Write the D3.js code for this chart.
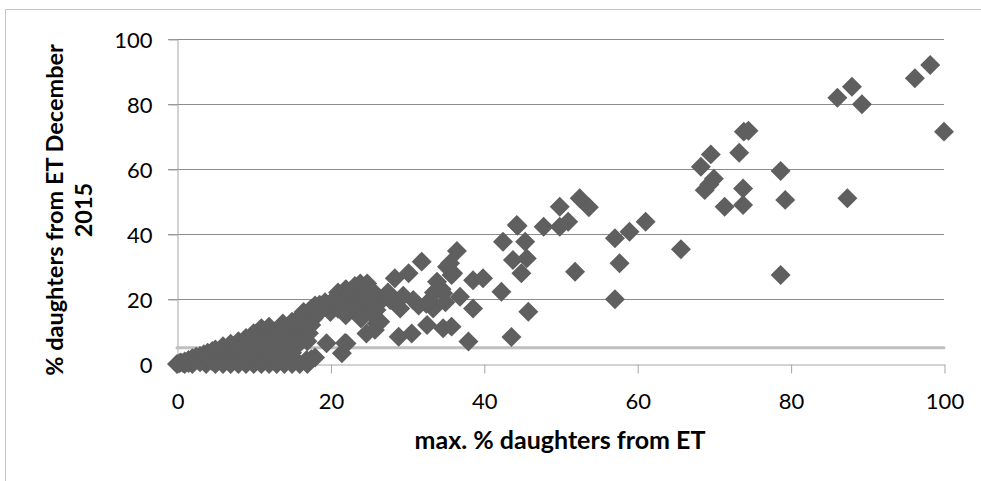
<!DOCTYPE html>
<html>
<head>
<meta charset="utf-8">
<script src="https://cdn.jsdelivr.net/npm/d3@7/dist/d3.min.js"></script>
<style>
  body { margin: 0; background: #fff; }
  svg { display: block; }
  text { font-family: Lato, "Open Sans", sans-serif; fill: #000; }
</style>
</head>
<body>
<div id="chart"></div>
<script>
// max. % daughters from ET (x) and % daughters from ET December 2015 (y), one entry per bull
var maxPctET = [
    0, 0.3, 0.5, 0.8, 1, 1, 1.5, 1.5, 2, 2, 2.3,
    2.5, 3, 3, 3.2, 3.5, 3.8, 4, 4, 4.5, 4.6, 5, 5, 5,
    5.5, 5.5, 6, 6, 6.2, 6.5, 6.8, 7, 7, 7.3, 7.5, 7.8, 8, 8, 8.2,
    8.5, 8.8, 9, 9, 9.2, 9.5, 9.8, 10, 10, 10.2, 10.5, 10.8, 11, 11, 11.3,
    11.5, 11.8, 12, 12, 12.5, 12.8, 13, 13.5, 13.5, 13.8, 14, 14, 14,
    14.5, 14.5, 15, 15, 15.3, 15.5, 16, 16, 16.3, 16.5, 16.8, 17, 17, 17.5, 16.9,
    17.5, 17.8, 17.2, 18, 18.3, 17.5, 19, 19.3, 19.5, 20, 20, 18,
    11, 12, 13.5, 14.5, 15, 16, 12.5, 10.5,
    20.5, 21, 21, 21.5, 21.5, 21.9, 22, 22, 22.5, 22.8, 23, 23.2, 23.5, 23.8, 24, 24,
    24.5, 24.8, 25, 25.2, 25.5, 26, 26, 24.7, 26, 22.1,
    25.8, 26.5, 26, 28.9, 30.6, 32.6, 34.7, 35.8, 33.4, 29.1, 27.8, 30.8, 28.4, 30.2,
    31.9, 33.9, 35.2, 35.8, 36.5, 35.6, 36, 38.6, 39.9, 34.7, 36.9, 38.6, 38, 23.9,
    22.1, 18.6, 21.7, 33.5, 33, 34.5, 35, 31.5, 32.5, 27.5, 29.5,
    42.5, 44.3, 45.4, 47.8, 49.9, 51, 49.9, 52.5, 53.7, 43.8, 45.6, 44.9, 42.3, 45.8,
    43.6, 51.9, 44.4,
    57.1, 59, 61.1, 57.7, 65.7, 78.7, 57.1,
    68.3, 69.6, 73.3, 73.9, 74.5, 70, 69.4, 68.8, 78.7, 73.8, 71.4, 73.8, 79.3, 87.4,
    86.1, 88, 89.3, 96.2, 98.2, 100
];
var pctETDec2015 = [
    0, 0.2, 0.5, 0.3, 0, 0.8, 1.2, 0.3, 0, 1.8, 1,
    2.2, 0.5, 2.5, 1.5, 3, 0, 2, 3.5, 1, 4, 0, 2.5, 4.5,
    1.5, 3.5, 0, 5.5, 2.8, 4.5, 1, 0, 6.2, 3.5, 5, 2, 0, 7, 4,
    6, 1.5, 0, 8, 3, 5, 7, 0, 9.5, 2, 4, 8.5, 0, 11, 10,
    2, 9, 0, 11.5, 1.5, 10, 0, 2, 9.5, 12.5, 0, 7.5, 11,
    2, 5.5, 0, 13, 9, 11.5, 0, 14.5, 10.5, 16, 12, 0, 7, 1.5, 1.2,
    17, 14, 9.5, 18, 16, 12, 17, 19, 6.4, 18.5, 16, 2,
    6, 4, 5, 7.5, 3.5, 6.5, 8, 6.5,
    20, 17, 22, 19, 3.3, 6.5, 15, 23, 18, 21, 16.5, 24, 19.5, 22, 17, 14,
    21, 24.8, 19.5, 16, 22.5, 18, 20.5, 9.4, 12.5, 6.3,
    10.5, 13, 16.6, 8.4, 9.4, 12, 11, 11.5, 17.1, 17.1, 19.7, 19.7, 26.4, 27.9,
    31.5, 25.3, 29.9, 27.4, 34.8, 31, 27.9, 25.8, 26.4, 21.8, 20.7, 17.1, 6.9, 24.8,
    22.8, 18.2, 16.6, 22, 19.5, 23, 19, 18, 18.5, 22, 21,
    37.6, 42.8, 37.6, 42.2, 48.4, 43.8, 42.2, 51, 48.2, 32, 32.5, 27.9, 22.2, 16.1,
    8.3, 28.4, 42.5,
    38.7, 40.7, 43.8, 31, 35.3, 27.4, 19.9,
    60.7, 64.5, 65, 71.5, 71.8, 57, 55.2, 53.5, 59.4, 54, 48.4, 48.9, 50.5, 51,
    81.9, 85.3, 79.9, 87.9, 92, 71.5
];
var xTicks = [0, 20, 40, 60, 80, 100];
var yTicks = [0, 20, 40, 60, 80, 100];
var refLevel = 5;
var xTitle = "max. % daughters from ET";
var yTitleLines = ["% daughters from ET December", "2015"];

(function () {
    var width = 981, height = 481;
    var left = 177, right = 944, top = 39, bottom = 364;

    var svg = d3.select("#chart").append("svg")
        .attr("width", width)
        .attr("height", height);

    // outer chart border (runs off the right and bottom of the picture)
    svg.append("rect")
        .attr("x", 5.5).attr("y", 9.5)
        .attr("width", 1000).attr("height", 500)
        .attr("fill", "none")
        .attr("stroke", "#c6c6c6");

    var x = d3.scaleLinear().domain([0, 100]).range([left, right]);
    var y = d3.scaleLinear().domain([0, 100]).range([bottom, top]);

    // horizontal gridlines
    svg.append("g")
        .selectAll("line")
        .data(yTicks.filter(function (d) { return d > 0; }))
        .enter().append("line")
        .attr("x1", left - 9).attr("x2", right)
        .attr("y1", function (d) { return Math.round(y(d)) + 0.5; })
        .attr("y2", function (d) { return Math.round(y(d)) + 0.5; })
        .attr("stroke", "#8c8c8c");

    // y axis
    var gy = svg.append("g")
        .attr("transform", "translate(" + (left + 0.5) + ",0.5)")
        .call(d3.axisLeft(y).tickValues(yTicks).tickSize(9).tickSizeOuter(0).tickPadding(16));
    gy.select(".domain").attr("stroke", "#a6a6a6");
    gy.selectAll(".tick line").attr("stroke", "#a6a6a6");
    gy.selectAll(".tick text")
        .attr("font-size", 22)
        .attr("font-family", "Lato, sans-serif")
        .attr("dy", "0.36em")
        .attr("fill", "#000");

    // x axis
    var gx = svg.append("g")
        .attr("transform", "translate(0.5," + (bottom + 0.5) + ")")
        .call(d3.axisBottom(x).tickValues(xTicks).tickSize(9).tickSizeOuter(0).tickPadding(20));
    gx.select(".domain").attr("stroke", "#a6a6a6");
    gx.selectAll(".tick line").attr("stroke", "#a6a6a6");
    gx.selectAll(".tick text")
        .attr("font-size", 22)
        .attr("font-family", "Lato, sans-serif")
        .attr("fill", "#000");

    // 5 % reference line
    svg.append("line")
        .attr("x1", x(0)).attr("x2", x(100))
        .attr("y1", y(refLevel)).attr("y2", y(refLevel))
        .attr("stroke", "#bfbfbf")
        .attr("stroke-width", 3)
        .attr("stroke-linecap", "round");

    // diamonds
    var diamond = d3.symbol().type(d3.symbolSquare).size(200);
    svg.append("g")
        .selectAll("path")
        .data(d3.range(maxPctET.length))
        .enter().append("path")
        .attr("d", diamond)
        .attr("transform", function (i) {
            return "translate(" + x(maxPctET[i]) + "," + y(pctETDec2015[i]) + ") rotate(45)";
        })
        .attr("fill", "#5f5f5f");

    // axis titles
    svg.append("text")
        .attr("x", 560)
        .attr("y", 449)
        .attr("text-anchor", "middle")
        .attr("font-size", 25)
        .attr("font-weight", "bold")
        .text(xTitle);

    var yt = svg.append("text")
        .attr("transform", "translate(63,210) rotate(-90)")
        .attr("text-anchor", "middle")
        .attr("font-size", 23.5)
        .attr("font-weight", "bold");
    yt.selectAll("tspan")
        .data(yTitleLines)
        .enter().append("tspan")
        .attr("x", 0)
        .attr("dy", function (d, i) { return i === 0 ? 0 : 29; })
        .text(function (d) { return d; });
}());
</script>
</body>
</html>
